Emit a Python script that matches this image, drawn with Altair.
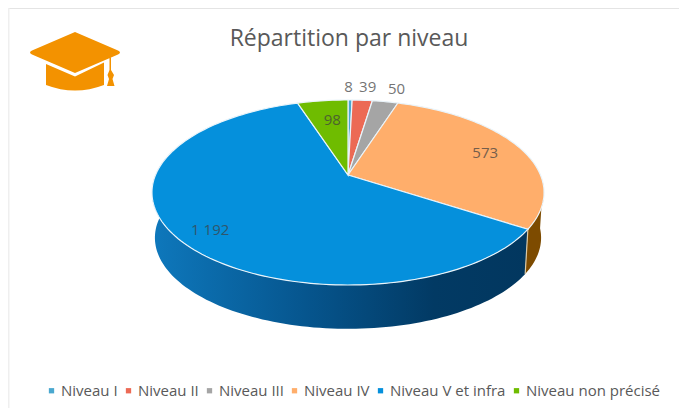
import math
import altair as alt

# --- data
categories = ["Niveau I", "Niveau II", "Niveau III", "Niveau IV", "Niveau V et infra", "Niveau non précisé"]
values = [8, 39, 50, 573, 1192, 98]
value_labels = ["8", "39", "50", "573", "1 192", "98"]
top_colors = ["#4aa8cf", "#ec6a55", "#a5a5a5", "#ffae6b", "#0590dc", "#6fbc00"]

# --- 3D look of the pie: a tilted disc seen in perspective
W, H = 671, 400
OFFSET = 8
AX, AY = 348 - OFFSET, 175 - OFFSET
A, B, K = 192.5, 89.2, 0.189


def rim(theta_deg, r=1.0, s=1.0, dy=0.0):
    t = math.radians(theta_deg)
    X, Y = r * math.sin(t), r * math.cos(t)
    d = 1 + K * Y
    return [AX + s * A * X / d, AY - s * B * Y / d + dy]


def arc_points(a0, a1, **kw):
    n = max(2, int(abs(a1 - a0) / 1.5) + 2)
    return [rim(a0 + (a1 - a0) * i / (n - 1), **kw) for i in range(n)]


def feature(ring, name):
    return {
        "type": "Feature",
        "properties": {"name": name},
        "geometry": {"type": "Polygon", "coordinates": [ring + [ring[0]]]},
    }


total = sum(values)
edges = [0.0]
for v in values:
    edges.append(edges[-1] + v / total * 360)

slices = [
    feature([[AX, AY]] + arc_points(edges[i], edges[i + 1]), categories[i])
    for i in range(len(values))
]

WALL = dict(s=0.985, dy=45.5)


def wall(a0, a1, name):
    top = arc_points(a0, a1)
    bottom = arc_points(a0, a1, **WALL)
    return feature(top + bottom[::-1], name)


projection = dict(type="identity", scale=1, translate=[0, 0])

blue_wall = alt.Chart(alt.Data(values=[wall(edges[4], edges[4] + 165, "w")])).mark_geoshape(
    strokeWidth=0,
    fill=alt.LinearGradient(
        gradient="linear", x1=1, x2=0, y1=0, y2=0,
        stops=[
            alt.GradientStop(offset=0.0, color="#02375f"),
            alt.GradientStop(offset=0.25, color="#023a64"),
            alt.GradientStop(offset=0.6, color="#06568f"),
            alt.GradientStop(offset=1.0, color="#0e78bc"),
        ],
    ),
).project(**projection)

orange_wall = alt.Chart(alt.Data(values=[wall(95, edges[4], "o")])).mark_geoshape(
    fill="#7d4b00", strokeWidth=0
).project(**projection)

sep_top = rim(edges[4])
sep_bot = rim(edges[4], **WALL)
separator = alt.Chart(alt.Data(values=[feature([sep_top, sep_bot], "s")])).mark_geoshape(
    fill="#d9c9a8", stroke="#d9c9a8", strokeWidth=1.2
).project(**projection)

tops = alt.Chart(alt.Data(values=slices)).mark_geoshape(
    stroke="#eaf4fa", strokeWidth=1.2
).encode(
    color=alt.Color(
        "properties.name:N",
        sort=categories,
        scale=alt.Scale(domain=categories, range=top_colors),
        legend=alt.Legend(
            title=None, orient="none", legendX=36, legendY=375, direction="horizontal",
            columns=6, columnPadding=3, symbolType="square", symbolSize=28,
            symbolStrokeWidth=0, labelFont="Open Sans", labelFontSize=15,
            labelColor="#595959", labelOffset=2, padding=0,
        ),
    )
).project(**projection)

# label placement: radial factor and small nudges
radial = [1.21, 1.21, 1.21, 0.77, 0.86, 0.7]
nudge_x = [-2, 3, 5, 4, 8, 3]
nudge_y = [0, 0, 0, 0, 3, 0]
label_rows = []
for i, txt in enumerate(value_labels):
    x, y = rim((edges[i] + edges[i + 1]) / 2, r=radial[i])
    label_rows.append({"x": x + nudge_x[i], "y": y + nudge_y[i], "t": txt})

labels = alt.Chart(alt.Data(values=label_rows)).mark_text(
    font="Open Sans", fontSize=15, color="#404040", opacity=0.72
).encode(
    x=alt.X("x:Q", scale=None),
    y=alt.Y("y:Q", scale=None),
    text="t:N",
)

title = alt.Chart(alt.Data(values=[{"t": "Répartition par niveau"}])).mark_text(
    font="Open Sans", fontSize=23, color="#595959"
).encode(x=alt.value(349 - OFFSET), y=alt.value(39 - OFFSET), text="t:N")

CAP = (
    "M0,-.56 L.86,-.19 Q.94,-.15 .86,-.11 L0,.26 L-.86,-.11 Q-.94,-.15 -.86,-.19 Z "
    "M-.58,.08 L0,.33 L.58,.05 L.58,.5 Q0,.72 -.58,.5 Z "
    "M.69,-.07 L.72,-.08 L.72,.2 L.78,.3 L.75,.38 L.79,.52 L.64,.52 L.68,.38 L.65,.3 L.69,.2 Z"
)
icon = alt.Chart(alt.Data(values=[{"a": 1}])).mark_point(
    shape=CAP, filled=True, size=10000, color="#f39200", opacity=1
).encode(x=alt.value(75 - OFFSET), y=alt.value(60 - OFFSET))

frame_top = alt.Chart(alt.Data(values=[{"a": 1}])).mark_rule(color="#e4e4e4", strokeWidth=2).encode(
    x=alt.value(0), x2=alt.value(W), y=alt.value(0)
)
frame_left = alt.Chart(alt.Data(values=[{"a": 1}])).mark_rule(color="#efefef", strokeWidth=3).encode(
    x=alt.value(0), y=alt.value(0), y2=alt.value(H)
)

chart = (
    alt.layer(frame_top, frame_left, blue_wall, orange_wall, separator, tops, labels, title, icon)
    .resolve_scale(x="independent", y="independent")
    .properties(width=W, height=H, padding=0, background="#ffffff",
                autosize=alt.AutoSizeParams(type="none"))
    .configure_view(stroke=None)
)

chart.save("out.html", embed_options={"renderer": "svg", "actions": False})
